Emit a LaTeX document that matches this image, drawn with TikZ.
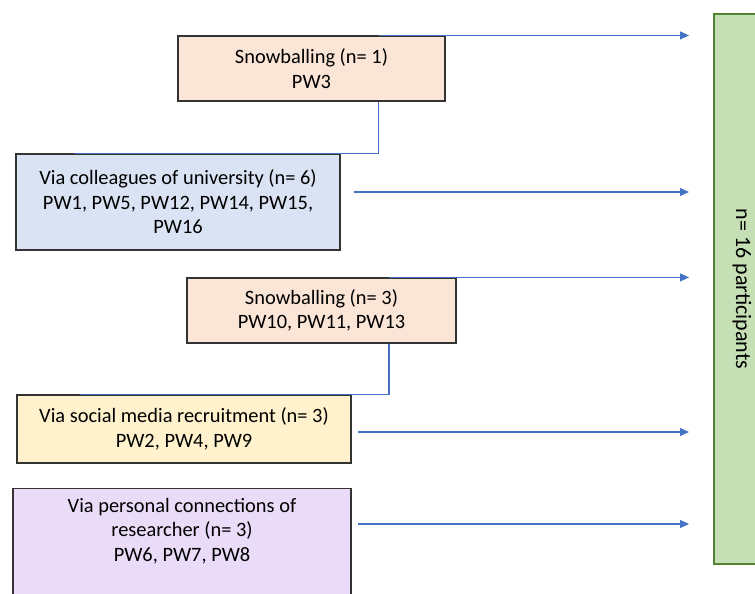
\documentclass[tikz,border=0pt]{standalone}
\usepackage{fontspec}
\setmainfont{Carlito}
\usepackage{xcolor}
\usepackage{tikz}
\usetikzlibrary{calc,arrows.meta,positioning}

\definecolor{snowfill}{HTML}{FBE5D6}
\definecolor{collfill}{HTML}{DAE3F3}
\definecolor{socialfill}{HTML}{FFF2CC}
\definecolor{personfill}{HTML}{EADCF8}
\definecolor{totalfill}{HTML}{C5E0B4}
\definecolor{totaledge}{HTML}{548235}
\definecolor{arrowblue}{HTML}{4472C4}

\tikzset{
  srcbox/.style={draw=black!80, line width=1.1pt, align=center, inner sep=0pt,
    font=\fontsize{20.4}{24.5}\selectfont},
  srctext/.style={align=center, inner sep=0pt, font=\fontsize{20.4}{24.5}\selectfont},
  feed/.style={draw=arrowblue, line width=1.1pt, -{Triangle[length=9pt,width=8pt]}},
  link/.style={draw=arrowblue, line width=1.1pt},
}

\begin{document}
\begin{tikzpicture}[x=1pt,y=-1pt]

\useasboundingbox (0,0) rectangle (755,594);
\clip (0,0) rectangle (755,594);

%  sources
  \node[srcbox, fill=snowfill, minimum width=267pt, minimum height=65pt] (snow1) at (311.5,68.5) {Snowballing (n= 1)\\PW3};
  \node[srcbox, fill=collfill, minimum width=324pt, minimum height=96pt] (coll) at (178,202) {Via colleagues of university (n= 6)\\PW1, PW5, PW12, PW14, PW15,\\PW16};
  \node[srcbox, fill=snowfill, minimum width=269pt, minimum height=65pt] (snow3) at (321.5,310.5) {Snowballing (n= 3)\\PW10, PW11, PW13};
  \node[srcbox, fill=socialfill, minimum width=334pt, minimum height=68pt] (social) at (184,429) {Via social media recruitment (n= 3)\\PW2, PW4, PW9};
  \node[srcbox, fill=personfill, minimum width=338pt, minimum height=140pt, anchor=north] (personalbox) at (182,488) {};
    \node[srctext] (personal) at (182,531) {Via personal connections of\\researcher (n= 3)\\PW6, PW7, PW8};

%  total
  \node[draw=totaledge, line width=2.5pt, fill=totalfill, minimum width=550pt, minimum height=56pt,
    rotate=-90, font=\fontsize{22}{26}\selectfont] (total) at (742,289) {n= 16 participants};

  \coordinate (inlet) at (689,0);

%  snowballing links
  \coordinate (s1out) at ($(snow1.south west)!0.75!(snow1.south east)$);
  \coordinate (s1top) at ($(snow1.north west)!0.75!(snow1.north east)$);
  \coordinate (s3out) at ($(snow3.south west)!0.75!(snow3.south east)$);
  \coordinate (s3top) at ($(snow3.north west)!0.75!(snow3.north east)$);

    \draw[link] (s1out) |- ($(coll.north west)!0.18!(coll.north east)$);
    \draw[link] (s3out) |- ($(social.north west)!0.19!(social.north east)$);

%  into the total
  \coordinate (collout) at ([xshift=13pt,yshift=10pt]coll.east);
  \coordinate (socialout) at ([xshift=6pt,yshift=-3pt]social.east);
  \coordinate (personalout) at ([xshift=6pt,yshift=7pt]personalbox.east |- personal.center);
  \draw[feed] (s1top) -- (inlet |- s1top);
  \draw[feed] (collout) -- (inlet |- collout);
  \draw[feed] (s3top) -- (inlet |- s3top);
  \draw[feed] (socialout) -- (inlet |- socialout);
  \draw[feed] (personalout) -- (inlet |- personalout);

\end{tikzpicture}
\end{document}
